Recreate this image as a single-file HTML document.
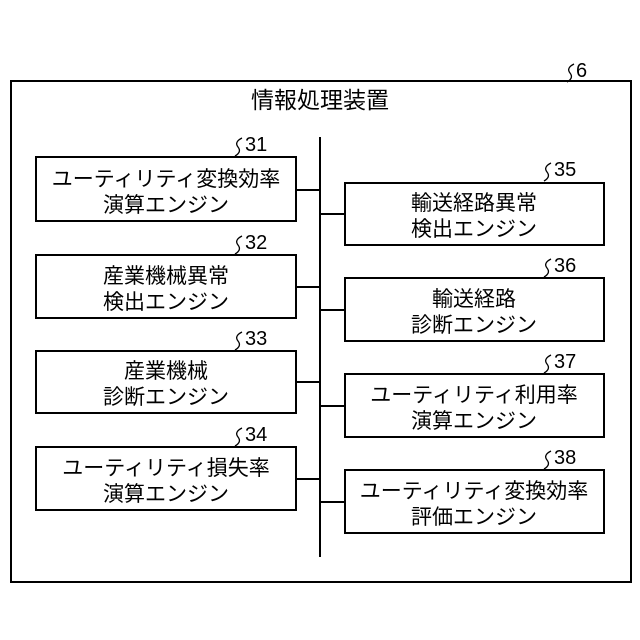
<html><body style="margin:0;width:640px;height:640px;background:#fff;font-family:'Liberation Sans','Noto Sans CJK JP',sans-serif;">
<svg width="640" height="640" xmlns="http://www.w3.org/2000/svg" style="position:absolute;left:0;top:0">
<g fill="none" stroke="#000" stroke-width="2">
<rect x="11" y="81" width="620" height="501"/>
<line x1="320" y1="137" x2="320" y2="557"/>
<rect x="36" y="157" width="260" height="64"/>
<rect x="36" y="255" width="260" height="63"/>
<rect x="36" y="351" width="260" height="62"/>
<rect x="36" y="447" width="260" height="63"/>
<rect x="345" y="183" width="259" height="62"/>
<rect x="345" y="278" width="259" height="63"/>
<rect x="345" y="374" width="259" height="63"/>
<rect x="345" y="470" width="259" height="63"/>
<line x1="296" y1="190" x2="320" y2="190"/>
<line x1="296" y1="287" x2="320" y2="287"/>
<line x1="296" y1="382" x2="320" y2="382"/>
<line x1="296" y1="479" x2="320" y2="479"/>
<line x1="320" y1="214" x2="345" y2="214"/>
<line x1="320" y1="310" x2="345" y2="310"/>
<line x1="320" y1="406" x2="345" y2="406"/>
<line x1="320" y1="502" x2="345" y2="502"/>
</g>
<g fill="none" stroke="#000" stroke-width="1.3">
<path d="M574 64 q-8 4 -4 9 q4 5 -3 9"/>
<path d="M242 138 q-8 4 -4 9 q4 5 -3 9"/>
<path d="M242 236 q-8 4 -4 9 q4 5 -3 9"/>
<path d="M242 332 q-8 4 -4 9 q4 5 -3 9"/>
<path d="M242 428 q-8 4 -4 9 q4 5 -3 9"/>
<path d="M551 163 q-8 4 -4 9 q4 5 -3 9"/>
<path d="M551 259 q-8 4 -4 9 q4 5 -3 9"/>
<path d="M551 355 q-8 4 -4 9 q4 5 -3 9"/>
<path d="M551 451 q-8 4 -4 9 q4 5 -3 9"/>
</g>
<g font-size="20" fill="#000">
<text x="576" y="77">6</text>
<text x="245" y="151">31</text><text x="245" y="249">32</text><text x="245" y="345">33</text><text x="245" y="441">34</text>
<text x="554" y="176">35</text><text x="554" y="272">36</text><text x="554" y="368">37</text><text x="554" y="464">38</text>
</g>
<g font-size="21" fill="#000" text-anchor="middle">
<text x="320" y="108" font-size="23">情報処理装置</text>
<text x="166" y="186">ユーティリティ変換効率</text><text x="166" y="212">演算エンジン</text>
<text x="166" y="283">産業機械異常</text><text x="166" y="309">検出エンジン</text>
<text x="166" y="378">産業機械</text><text x="166" y="404">診断エンジン</text>
<text x="166" y="475">ユーティリティ損失率</text><text x="166" y="501">演算エンジン</text>
<text x="474" y="210">輸送経路異常</text><text x="474" y="236">検出エンジン</text>
<text x="474" y="306">輸送経路</text><text x="474" y="332">診断エンジン</text>
<text x="474" y="402">ユーティリティ利用率</text><text x="474" y="428">演算エンジン</text>
<text x="474" y="498">ユーティリティ変換効率</text><text x="474" y="524">評価エンジン</text>
</g>
</svg>
</body></html>
